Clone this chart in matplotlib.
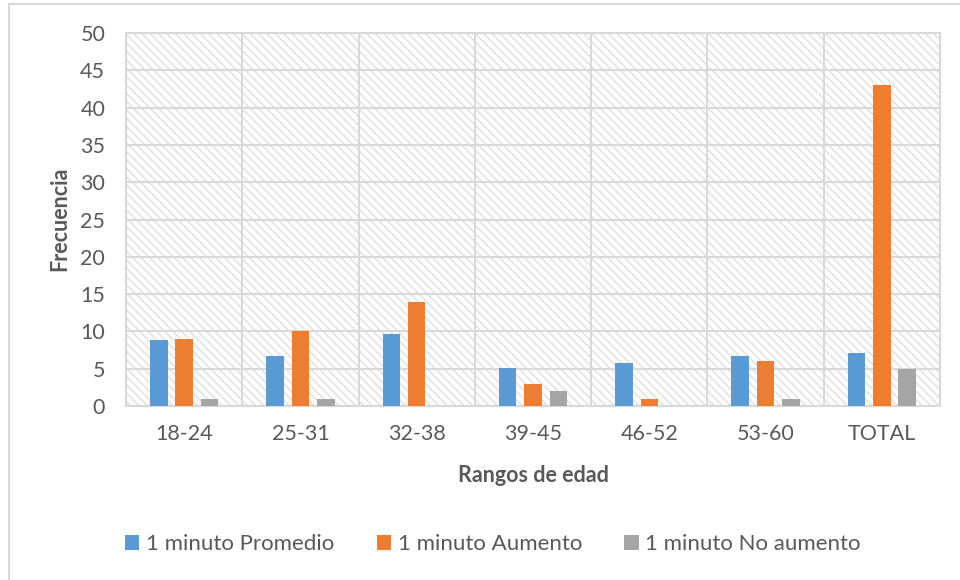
import matplotlib
matplotlib.use("Agg")
import matplotlib.pyplot as plt
import numpy as np
from matplotlib.patches import Rectangle
from matplotlib.lines import Line2D

categories = ["18-24", "25-31", "32-38", "39-45", "46-52", "53-60", "TOTAL"]
promedio = [8.85, 6.7, 9.6, 5.1, 5.8, 6.75, 7.1]
aumento = [9, 10, 14, 3, 1, 6, 43]
no_aumento = [1, 1, 0, 2, 0, 1, 5]
series_names = ["1 minuto Promedio", "1 minuto Aumento", "1 minuto No aumento"]
colors = ["#5B9BD5", "#ED7D31", "#A5A5A5"]
yticks = [0, 5, 10, 15, 20, 25, 30, 35, 40, 45, 50]

plt.rcParams["font.family"] = ["Lato", "DejaVu Sans"]
text_color = "#595959"
grid_color = "#d9d9d9"

fig = plt.figure(figsize=(9.6, 5.8), dpi=100)
ax = fig.add_axes([126 / 960, 1 - 406 / 580, (940 - 126) / 960, (406 - 33) / 580])

# outer chart border (top and left edges)
fig.add_artist(Line2D([9 / 960, 9 / 960], [0, 1 - 4 / 580], color=grid_color, lw=1.5,
                      transform=fig.transFigure))
fig.add_artist(Line2D([9 / 960, 1], [1 - 4 / 580, 1 - 4 / 580], color=grid_color, lw=1.5,
                      transform=fig.transFigure))

# hatched plot-area background
plt.rcParams["hatch.linewidth"] = 1.1
bg = Rectangle((0, 0), 1, 1, transform=ax.transAxes, facecolor="white",
               edgecolor="#e2e2e2", hatch="\\\\\\\\", lw=0, zorder=0)
ax.add_patch(bg)

x = np.arange(len(categories))
width = 0.15
offset = 0.218
for i, (vals, name, c) in enumerate(zip([promedio, aumento, no_aumento], series_names, colors)):
    ax.bar(x + (i - 1) * offset, vals, width, color=c, label=name, zorder=3)

ax.set_xlim(-0.5, len(categories) - 0.5)
ax.set_ylim(0, 50)
ax.set_yticks(yticks)
ax.set_xticks(x)
ax.set_xticklabels(categories)

# grid lines: horizontal at ticks, vertical at category boundaries
for y in yticks:
    ax.axhline(y, color=grid_color, lw=1.5, zorder=1)
for b in np.arange(-0.5, len(categories), 1.0):
    ax.axvline(b, color=grid_color, lw=1.5, zorder=1)

for s in ax.spines.values():
    s.set_color(grid_color)
    s.set_linewidth(1.5)

ax.tick_params(axis="both", length=0, labelsize=15.5, labelcolor=text_color)
ax.tick_params(axis="y", pad=15)
ax.tick_params(axis="x", pad=13)

fig.text(60 / 960, 1 - 219 / 580, "Frecuencia", rotation=90, ha="center", va="center",
         fontsize=15.5, fontweight="bold", color=text_color)
fig.text(533 / 960, 1 - 475 / 580, "Rangos de edad", ha="center", va="center",
         fontsize=15.5, fontweight="bold", color=text_color)

handles, labels = ax.get_legend_handles_labels()
leg = fig.legend(handles, labels, loc="center", bbox_to_anchor=(493 / 960, 1 - 544 / 580),
                 ncol=3, frameon=False, fontsize=16, handlelength=0.65, handleheight=0.65,
                 handletextpad=0.3, columnspacing=1.9)
for t in leg.get_texts():
    t.set_color(text_color)

fig.savefig("out.png", dpi=100)
